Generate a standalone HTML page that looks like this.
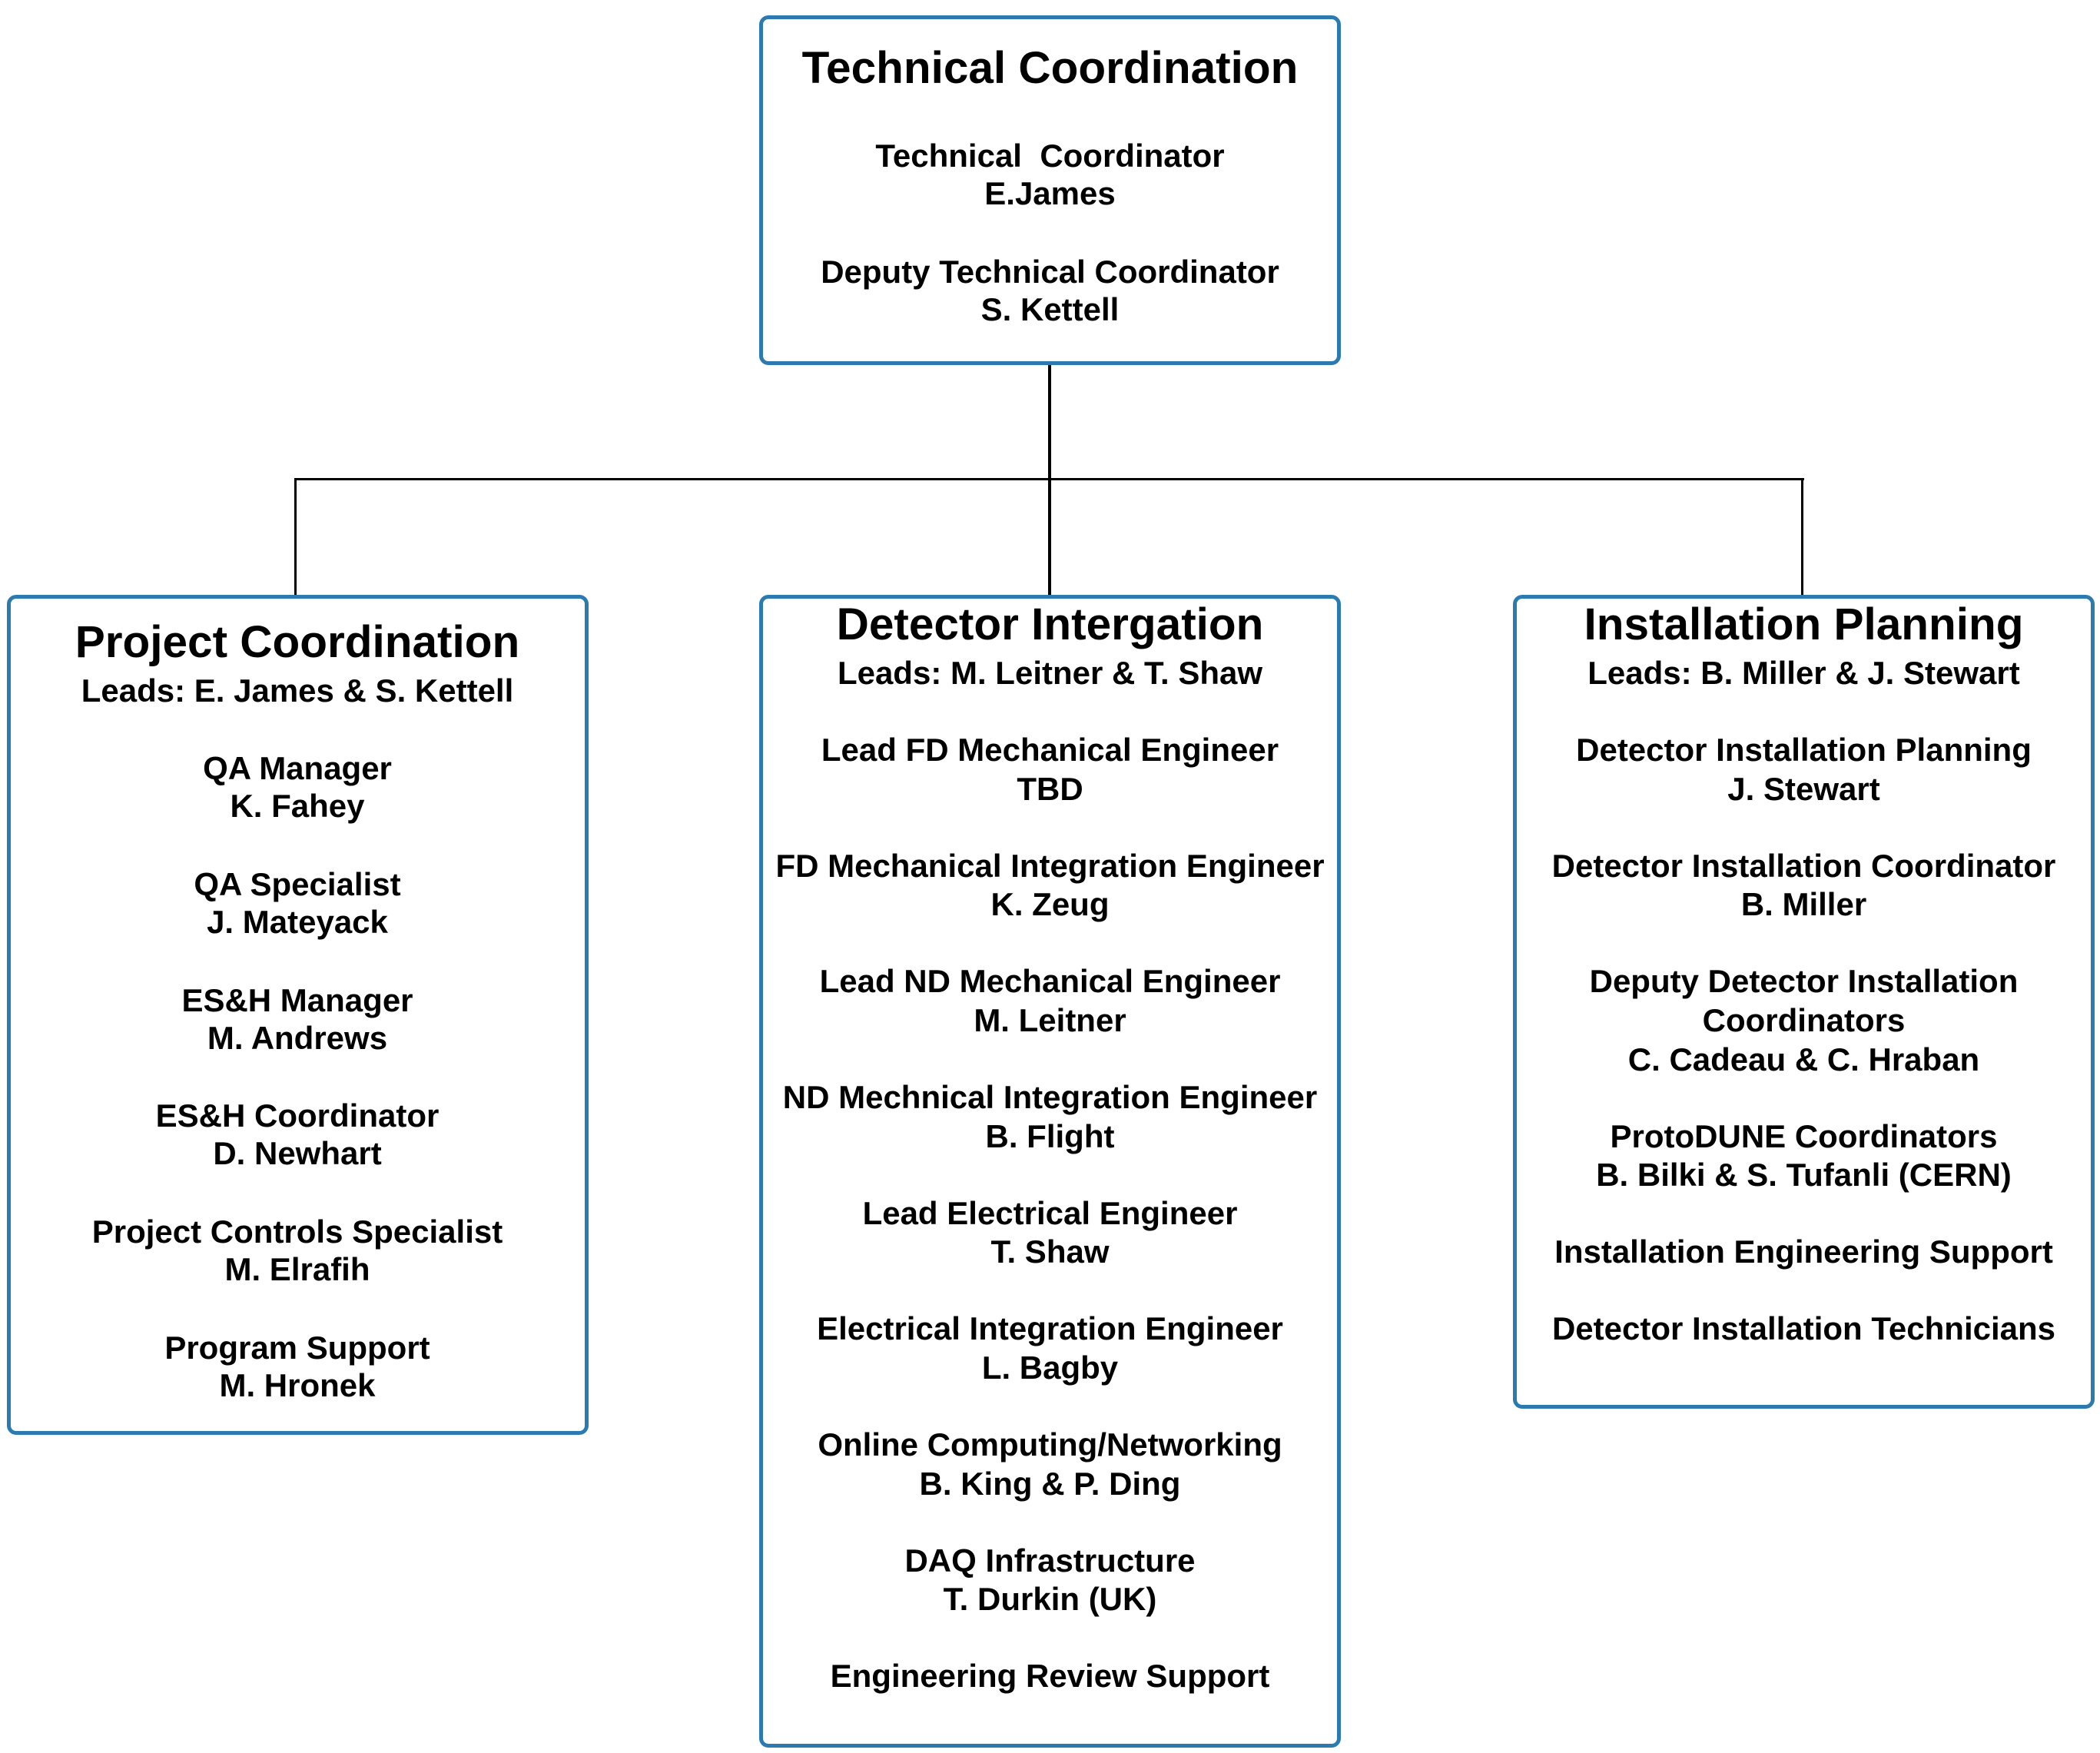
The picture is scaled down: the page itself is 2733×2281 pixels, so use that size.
<!DOCTYPE html>
<html><head><meta charset="utf-8"><style>
body{margin:0;width:2733px;height:2281px;background:#fff;position:relative;overflow:hidden;font-family:"Liberation Sans",sans-serif;font-weight:bold;color:#000}
.box{position:absolute;border:5px solid #2b7bb0;border-radius:12px;box-sizing:border-box;background:#fff}
.l{position:absolute;height:50px;line-height:50px;font-size:42px;text-align:center;white-space:pre}
.t{position:absolute;height:70px;line-height:70px;font-size:58.5px;text-align:center;white-space:pre}
.ln{position:absolute;background:#000}
.c0{left:990px;width:753px}
.c1{left:10px;width:754px}
.c2{left:990px;width:753px}
.c3{left:1971px;width:753px}
</style></head><body>
<div class="ln" style="left:1364px;top:473px;width:4px;height:303px"></div>
<div class="ln" style="left:383px;top:622px;width:1965px;height:3px"></div>
<div class="ln" style="left:383px;top:622px;width:3px;height:154px"></div>
<div class="ln" style="left:2344px;top:622px;width:3px;height:154px"></div>

<div class="box" style="left:988px;top:20px;width:757px;height:455px"></div>
<div class="box" style="left:9px;top:774px;width:757px;height:1093px"></div>
<div class="box" style="left:988px;top:774px;width:757px;height:1500px"></div>
<div class="box" style="left:1969px;top:774px;width:757px;height:1059px"></div>

<div class="t c0" style="top:54px">Technical Coordination</div>
<div class="l c0" style="top:178px">Technical  Coordinator</div>
<div class="l c0" style="top:227px">E.James</div>
<div class="l c0" style="top:329px">Deputy Technical Coordinator</div>
<div class="l c0" style="top:378px">S. Kettell</div>

<div class="t c1" style="top:801px">Project Coordination</div>
<div class="l c1" style="top:874px">Leads: E. James &amp; S. Kettell</div>
<div class="l c1" style="top:975px">QA Manager</div>
<div class="l c1" style="top:1024px">K. Fahey</div>
<div class="l c1" style="top:1126px">QA Specialist</div>
<div class="l c1" style="top:1175px">J. Mateyack</div>
<div class="l c1" style="top:1277px">ES&amp;H Manager</div>
<div class="l c1" style="top:1326px">M. Andrews</div>
<div class="l c1" style="top:1427px">ES&amp;H Coordinator</div>
<div class="l c1" style="top:1476px">D. Newhart</div>
<div class="l c1" style="top:1578px">Project Controls Specialist</div>
<div class="l c1" style="top:1627px">M. Elrafih</div>
<div class="l c1" style="top:1729px">Program Support</div>
<div class="l c1" style="top:1778px">M. Hronek</div>

<div class="t c2" style="top:778px">Detector Intergation</div>
<div class="l c2" style="top:851px">Leads: M. Leitner &amp; T. Shaw</div>
<div class="l c2" style="top:951px">Lead FD Mechanical Engineer</div>
<div class="l c2" style="top:1002px">TBD</div>
<div class="l c2" style="top:1102px">FD Mechanical Integration Engineer</div>
<div class="l c2" style="top:1152px">K. Zeug</div>
<div class="l c2" style="top:1252px">Lead ND Mechanical Engineer</div>
<div class="l c2" style="top:1303px">M. Leitner</div>
<div class="l c2" style="top:1403px">ND Mechnical Integration Engineer</div>
<div class="l c2" style="top:1454px">B. Flight</div>
<div class="l c2" style="top:1554px">Lead Electrical Engineer</div>
<div class="l c2" style="top:1604px">T. Shaw</div>
<div class="l c2" style="top:1704px">Electrical Integration Engineer</div>
<div class="l c2" style="top:1755px">L. Bagby</div>
<div class="l c2" style="top:1855px">Online Computing/Networking</div>
<div class="l c2" style="top:1906px">B. King &amp; P. Ding</div>
<div class="l c2" style="top:2006px">DAQ Infrastructure</div>
<div class="l c2" style="top:2056px">T. Durkin (UK)</div>
<div class="l c2" style="top:2156px">Engineering Review Support</div>

<div class="t c3" style="top:778px">Installation Planning</div>
<div class="l c3" style="top:851px">Leads: B. Miller &amp; J. Stewart</div>
<div class="l c3" style="top:951px">Detector Installation Planning</div>
<div class="l c3" style="top:1002px">J. Stewart</div>
<div class="l c3" style="top:1102px">Detector Installation Coordinator</div>
<div class="l c3" style="top:1152px">B. Miller</div>
<div class="l c3" style="top:1252px">Deputy Detector Installation</div>
<div class="l c3" style="top:1303px">Coordinators</div>
<div class="l c3" style="top:1354px">C. Cadeau &amp; C. Hraban</div>
<div class="l c3" style="top:1454px">ProtoDUNE Coordinators</div>
<div class="l c3" style="top:1504px">B. Bilki &amp; S. Tufanli (CERN)</div>
<div class="l c3" style="top:1604px">Installation Engineering Support</div>
<div class="l c3" style="top:1704px">Detector Installation Technicians</div>
</body></html>
